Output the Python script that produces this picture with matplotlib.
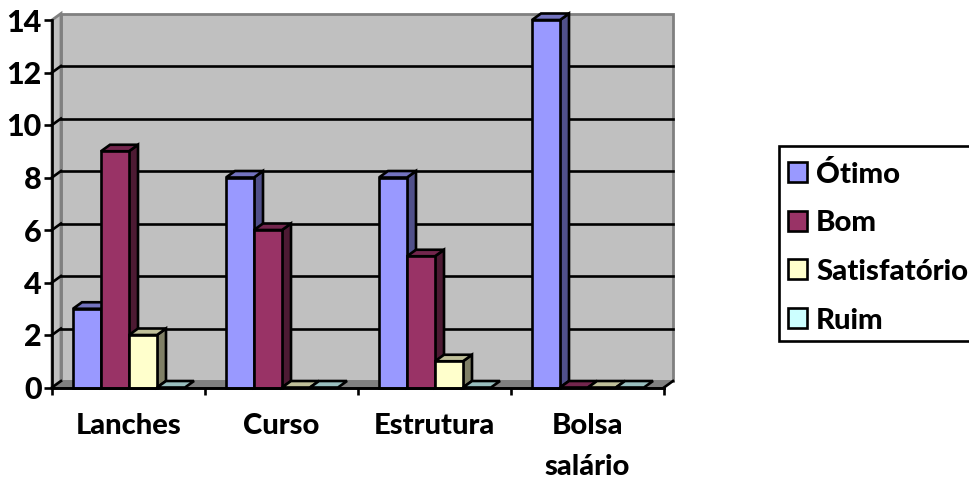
import matplotlib
matplotlib.use("Agg")
import matplotlib.pyplot as plt
from matplotlib.patches import Polygon, Rectangle

plt.rcParams["font.family"] = ["Lato", "DejaVu Sans"]
plt.rcParams["font.weight"] = 900

# Chart data
categories = ["Lanches", "Curso", "Estrutura", "Bolsa\nsalário"]
series_names = ["Ótimo", "Bom", "Satisfatório", "Ruim"]
otimo = [3, 8, 8, 14]
bom = [9, 6, 5, 0]
satisfatorio = [2, 0, 1, 0]
ruim = [0, 0, 0, 0]
y_ticks = [0, 2, 4, 6, 8, 10, 12, 14]

# front, side, top colours
colors = [
    ("#9999FF", "#50508A", "#7373BF"),
    ("#993366", "#4D1A33", "#73264D"),
    ("#FFFFCC", "#808066", "#BFBF99"),
    ("#CCFFFF", "#668080", "#99BFBF"),
]

W, H = 969, 479
LW = 1.9

fig = plt.figure(figsize=(W / 100, H / 100), dpi=100)
ax = fig.add_axes([52 / W, (H - 387.5) / H, 612 / W, 367.5 / H])
ax.set_xlim(0, 4)
ax.set_ylim(0, 14)

# depth of the fake 3D box, in data units
dx = 9 / 153
dy = 6.5 / 26.25
bar_w = 28 / 153
gap = 21 / 153


def poly(points, face, edge="black", lw=LW, z=3):
    ax.add_patch(Polygon(points, closed=True, facecolor=face, edgecolor=edge,
                         linewidth=lw, zorder=z, clip_on=False, joinstyle="miter"))


# walls and floor
poly([(dx, dy), (4 + dx, dy), (4 + dx, 14 + dy), (dx, 14 + dy)], "#C0C0C0", "#808080", 2, 1)
poly([(0, 0), (dx, dy), (dx, 14 + dy), (0, 14)], "#C0C0C0", "#808080", 2, 1)
poly([(0, 0), (4, 0), (4 + dx, dy), (dx, dy)], "#808080", "#808080", 1, 1)
ax.plot([0, 4], [0, 0], color="black", lw=LW, zorder=2, clip_on=False)
ax.plot([4, 4 + dx], [0, dy], color="black", lw=LW, zorder=2, clip_on=False)

for v in y_ticks[1:-1]:
    ax.plot([dx, 4 + dx], [v + dy, v + dy], color="black", lw=LW, zorder=2, clip_on=False)
for v in y_ticks[:-1]:
    ax.plot([0, dx], [v, v + dy], color="black", lw=LW, zorder=2, clip_on=False)

# bars, left to right
all_series = [otimo, bom, satisfatorio, ruim]
z = 3
for c in range(len(categories)):
    for s, values in enumerate(all_series):
        v = values[c]
        x0 = c + gap + s * bar_w
        x1 = x0 + bar_w
        front, side, top = colors[s]
        if v > 0:
            poly([(x1, 0), (x1 + dx, dy), (x1 + dx, v + dy), (x1, v)], side, z=z)
        poly([(x0, v), (x1, v), (x1 + dx, v + dy), (x0 + dx, v + dy)], top, z=z)
        if v > 0:
            poly([(x0, 0), (x1, 0), (x1, v), (x0, v)], front, z=z)
        z += 1

# axes
for name in ["top", "right"]:
    ax.spines[name].set_visible(False)
for name in ["left", "bottom"]:
    ax.spines[name].set_linewidth(LW)
    ax.spines[name].set_zorder(40)
ax.patch.set_visible(False)

ax.set_yticks(y_ticks)
ax.set_yticklabels([str(v) for v in y_ticks], fontsize=22, fontweight=900)
ax.tick_params(axis="y", length=5.5, width=LW, pad=2)

ax.set_xticks([0, 1, 2, 3, 4], minor=True)
ax.tick_params(axis="x", which="minor", length=5, width=LW)
ax.set_xticks([c + 0.5 for c in range(len(categories))])
ax.set_xticklabels(categories, fontsize=21, fontweight=900, linespacing=1.75)
ax.tick_params(axis="x", which="major", length=0, pad=18)

# legend, box runs off the right edge like the original
fig.add_artist(Rectangle((778.5 / W, (H - 341) / H), 195 / W, 195 / H, transform=fig.transFigure,
                         facecolor="white", edgecolor="black", linewidth=LW))
for i, name in enumerate(series_names):
    yc = 172 + i * 48.7
    fig.add_artist(Rectangle((787.5 / W, (H - yc - 10) / H), 19.5 / W, 20 / H, transform=fig.transFigure,
                             facecolor=colors[i][0], edgecolor="black", linewidth=LW))
    fig.text(816 / W, (H - yc) / H, name, fontsize=21.2, fontweight=900, va="center_baseline", ha="left")

fig.savefig("out.png", dpi=100)
